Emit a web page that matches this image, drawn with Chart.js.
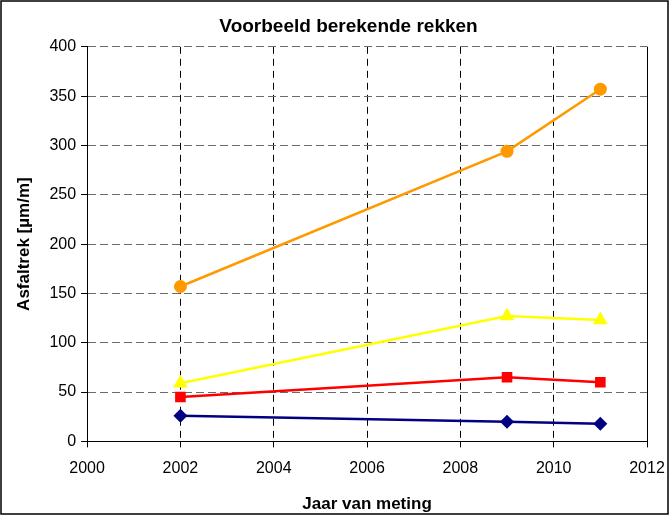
<!DOCTYPE html>
<html>
<head>
<meta charset="utf-8">
<script src="https://cdn.jsdelivr.net/npm/chart.js@4/dist/chart.umd.min.js"></script>
<style>
  html, body { margin: 0; padding: 0; background: #fff; }
  #wrap { width: 670px; height: 516px; }
</style>
</head>
<body>
<div id="wrap"><canvas id="chart" width="670" height="516"></canvas></div>
<script>
"use strict";

const years = [2002, 2009, 2011];
const orangeSeries = [157, 294, 357];
const yellowSeries = [59, 127, 123];
const redSeries = [45, 65, 60];
const navySeries = [26, 20, 18];
const xTicks = [2000, 2002, 2004, 2006, 2008, 2010, 2012];
const yTicks = [0, 50, 100, 150, 200, 250, 300, 350, 400];

const points = (values) => years.map((year, i) => ({ x: year, y: values[i] }));

function series(values, color, style, radius) {
  return {
    data: points(values),
    borderColor: color,
    backgroundColor: color,
    borderWidth: 2.5,
    pointStyle: style,
    pointRadius: radius,
    pointHoverRadius: radius,
    pointBorderWidth: 0,
    tension: 0,
  };
}

const frame = {
  id: "frame",
  afterLayout(chart) {
    // title sits a bit right of canvas centre, like the original
    const t = chart.titleBlock;
    t.left = chart.chartArea.left - 37;
    t.right = chart.chartArea.right;
  },
  beforeDraw(chart) {
    const { ctx, width, height } = chart;
    ctx.save();
    ctx.fillStyle = "#fff";
    ctx.fillRect(0, 0, width, height);
    ctx.restore();
  },
  afterDraw(chart) {
    const { ctx, width, height, chartArea } = chart;
    ctx.save();
    ctx.strokeStyle = "#000";
    ctx.lineWidth = 1.5;
    ctx.strokeRect(1, 1, width - 3, height - 3);
    ctx.lineWidth = 1;
    ctx.beginPath();
    ctx.moveTo(chartArea.right + 0.5, chartArea.top);
    ctx.lineTo(chartArea.right + 0.5, chartArea.bottom);
    ctx.stroke();
    ctx.restore();
  },
};

new Chart(document.getElementById("chart"), {
  type: "line",
  data: {
    datasets: [
      series(orangeSeries, "#FF9900", "circle", 6.5),
      series(yellowSeries, "#FFFF00", "triangle", 8.5),
      series(redSeries, "#FF0000", "rect", 7.5),
      series(navySeries, "#000080", "rectRot", 7),
    ],
  },
  options: {
    responsive: false,
    animation: false,
    layout: { padding: { left: 4, right: 0, top: 6, bottom: 0 } },
    plugins: {
      legend: { display: false },
      tooltip: { enabled: false },
      title: {
        display: true,
        text: "Voorbeeld berekende rekken",
        color: "#000",
        font: { family: "Liberation Sans", size: 19, weight: "bold" },
        padding: { top: 9, bottom: 9 },
      },
    },
    scales: {
      x: {
        type: "linear",
        min: 2000,
        max: 2012,
        afterBuildTicks: (axis) => { axis.ticks = xTicks.map((v) => ({ value: v })); },
        // the last year label is allowed to run into the frame, as in the original
        afterFit: (axis) => { axis.paddingRight = 23; },
        ticks: {
          color: "#000",
          font: { family: "Liberation Sans", size: 16 },
          padding: 12,
          maxRotation: 0,
          callback: (v) => String(v),
        },
        grid: {
          color: "#000",
          lineWidth: 1,
          tickColor: "#000",
          tickLength: 6,
          tickBorderDash: [],
        },
        border: { display: true, color: "#000", width: 1, dash: [7, 5] },
        title: {
          display: true,
          text: "Jaar van meting",
          color: "#000",
          font: { family: "Liberation Sans", size: 17, weight: "bold" },
          padding: { top: 4, bottom: 1 },
        },
      },
      y: {
        type: "linear",
        min: 0,
        max: 400,
        afterBuildTicks: (axis) => { axis.ticks = yTicks.map((v) => ({ value: v })); },
        ticks: {
          color: "#000",
          font: { family: "Liberation Sans", size: 16 },
          padding: 5,
        },
        grid: {
          color: "#6b6b6b",
          lineWidth: 1,
          tickColor: "#000",
          tickLength: 6,
          tickBorderDash: [],
        },
        border: { display: true, color: "#000", width: 1, dash: [8, 4] },
        title: {
          display: true,
          text: "Asfaltrek [µm/m]",
          color: "#000",
          font: { family: "Liberation Sans", size: 17, weight: "bold" },
          padding: { top: 10, bottom: 10 },
        },
      },
    },
  },
  plugins: [frame],
});
</script>
</body>
</html>
